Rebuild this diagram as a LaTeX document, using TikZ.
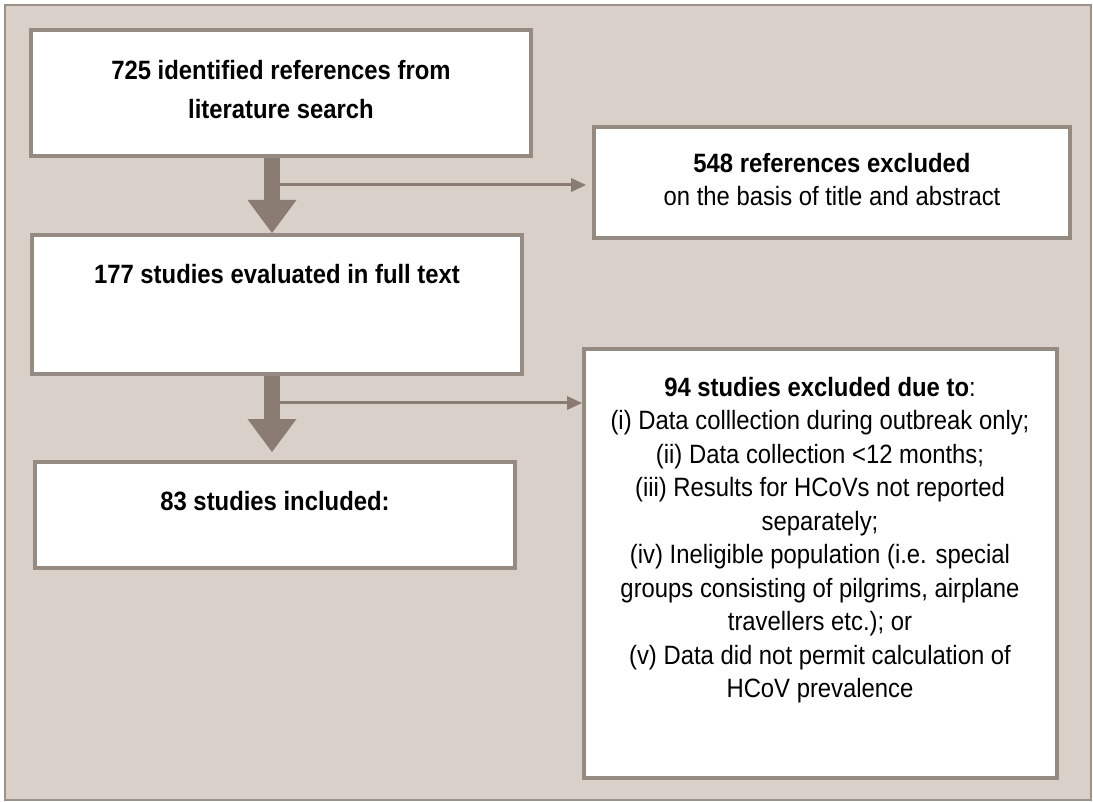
\documentclass[tikz,border=0pt]{standalone}
\usepackage{fontspec}
\setmainfont{Liberation Sans}[FakeStretch=0.9]
\usetikzlibrary{arrows.meta}
\definecolor{bgc}{HTML}{D8D0C9}
\definecolor{bord}{HTML}{968B83}
\definecolor{arr}{HTML}{8A7C72}
\definecolor{framec}{HTML}{9C928A}
\begin{document}
\begin{tikzpicture}[x=1pt,y=-1pt,
  box/.style={draw=bord, line width=4pt, fill=white, inner sep=0pt},
  txt/.style={align=center, inner sep=0pt, anchor=north, text=black},
  bigarrow/.style={draw=arr, line width=16pt, -{Triangle[width=49pt,length=33pt,line width=0pt,fill=arr]}},
  thinarrow/.style={draw=arr, line width=3pt, -{Triangle[width=14pt,length=15pt,line width=0pt,fill=arr]}}]
\useasboundingbox (0,0) rectangle (1093,802);
\draw[draw=framec, fill=bgc, line width=1.5pt] (5,5) rectangle (1091,800);

% boxes (centre-line sizes)
\node[box, minimum width=500pt, minimum height=126pt] (b1) at (281,93) {};
\node[box, minimum width=476pt, minimum height=111pt] (b548) at (832,182.5) {};
\node[box, minimum width=490pt, minimum height=139pt] (b2) at (277,304.5) {};
\node[box, minimum width=473pt, minimum height=429pt] (b94) at (820.5,563.5) {};
\node[box, minimum width=480pt, minimum height=106pt] (b83) at (275,515) {};

% texts
\node[txt, font=\fontsize{26.5}{39}\selectfont\bfseries] (t1) at (281,59.7)
  {725 identified references from\\literature search};
\node[txt, font=\fontsize{26.5}{33}\selectfont] (t548) at (832,152.7)
  {\textbf{548 references excluded}\\on the basis of title and abstract};
\node[txt, font=\fontsize{26.5}{33}\selectfont\bfseries] (t2) at (277,263.7)
  {177 studies evaluated in full text};
\node[txt, font=\fontsize{26.5}{33.5}\selectfont] (t94) at (820,376.7)
  {\textbf{94 studies excluded due to}:\\
   (i) Data colllection during outbreak only;\\
   (ii) Data collection <12 months;\\
   (iii) Results for HCoVs not reported\\
   separately;\\
   (iv) Ineligible population (i.e. special\\
   groups consisting of pilgrims, airplane\\
   travellers etc.); or\\
   (v) Data did not permit calculation of\\
   HCoV prevalence};
\node[txt, font=\fontsize{26.5}{33}\selectfont\bfseries] (t83) at (275,490.7)
  {83 studies included:};

% connectors
\coordinate (ax) at (272,0);
\coordinate (j1) at (280,185);
\coordinate (j2) at (280,403);
\draw[thinarrow] (j1) -- ([xshift=-6pt]j1 -| b548.west);
\draw[thinarrow] (j2) -- (j2 -| b94.west);
\draw[bigarrow] (b1.south -| ax) -- (b2.north -| ax);
\draw[bigarrow] (b2.south -| ax) -- ([yshift=8pt]b83.north -| ax);
\end{tikzpicture}
\end{document}
